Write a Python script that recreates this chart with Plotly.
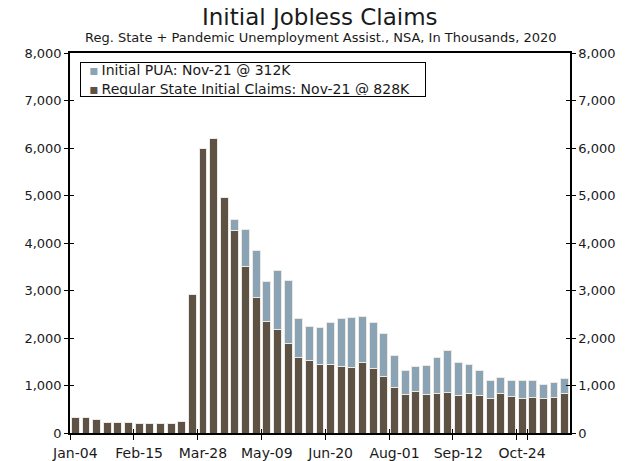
import pandas as pd
import plotly.graph_objects as go

# weekly, week ending Saturday, 2020
weeks = pd.date_range("2020-01-04", "2020-11-21", freq="7D").strftime("%b-%d").tolist()

# thousands, NSA
regular_state = [336, 336, 280, 231, 224, 217, 210, 196, 210, 203, 252, 2920,
                 5994, 6190, 4951, 4272, 3495, 2845, 2340, 2175, 1891, 1597,
                 1534, 1443, 1436, 1401, 1380, 1492, 1359, 1190, 966, 819,
                 868, 811, 825, 859, 789, 824, 789, 725, 831, 761, 732, 739,
                 725, 746, 828]
initial_pua = [0, 0, 0, 0, 0, 0, 0, 0, 0, 0, 0, 0, 0, 0, 0, 217, 798, 997,
               850, 1239, 1316, 805, 707, 777, 889, 1001, 1043, 959, 959, 904,
               659, 491, 533, 611, 755, 880, 690, 620, 521, 388, 331, 352, 367,
               367, 296, 324, 312]

tick_labels = weeks[::6]
y_ticks = [0, 1000, 2000, 3000, 4000, 5000, 6000, 7000, 8000]

reg_name = "Regular State Initial Claims: Nov-21 @ 828K"
pua_name = "Initial PUA: Nov-21 @ 312K"
reg_color = "#5e5245"
pua_color = "#8aa3b5"

txt = "#1a1a1a"
font = "DejaVu Sans"

fig = go.Figure()
fig.add_trace(go.Bar(x=weeks, y=regular_state, name=reg_name,
                     marker=dict(color=reg_color, line=dict(color="#ece8e3", width=1))))
fig.add_trace(go.Bar(x=weeks, y=initial_pua, name=pua_name,
                     marker=dict(color=pua_color, line=dict(color="#ece8e3", width=1))))
# invisible helpers so the overlay axes (right labels, crossing ticks) get drawn
fig.add_trace(go.Scatter(x=weeks, y=regular_state, xaxis="x2", yaxis="y2", mode="markers",
                         marker=dict(opacity=0), showlegend=False, hoverinfo="skip"))
fig.add_trace(go.Scatter(x=weeks, y=regular_state, xaxis="x", yaxis="y3", mode="markers",
                         marker=dict(opacity=0), showlegend=False, hoverinfo="skip"))

sq = "&nbsp;&#8201;<span style='color:{}'>▪</span>&#8201;"
legend_text = sq.format(pua_color) + pua_name + "<br>" + sq.format(reg_color) + reg_name

# page body adds an 8px offset, so the figure is 8px smaller than the window
fig.update_layout(
    width=628, height=453,
    barmode="stack", bargap=0.26,
    paper_bgcolor="white", plot_bgcolor="white",
    margin=dict(l=62, r=66, t=45, b=28),
    font=dict(family=font, size=13, color=txt),
    showlegend=False,
    annotations=[
        dict(text="Initial Jobless Claims", x=0.5, y=1.095, xref="paper", yref="paper",
             xanchor="center", yanchor="middle", showarrow=False,
             font=dict(size=23, color=txt)),
        dict(text="Reg. State + Pandemic Unemployment Assist., NSA, In Thousands, 2020",
             x=0.5, y=1.042, xref="paper", yref="paper", xanchor="center", yanchor="middle",
             showarrow=False, font=dict(size=13, color=txt)),
        # legend box
        dict(text=legend_text, x=0.02, y=0.976, xref="paper", yref="paper",
             xanchor="left", yanchor="top", align="left", valign="middle",
             showarrow=False, width=342, height=31,
             bgcolor="white", bordercolor="#000", borderwidth=1, borderpad=1,
             font=dict(size=14, color=txt)),
    ],
    xaxis=dict(type="category", categoryarray=weeks, range=[-0.5, len(weeks) - 0.5],
               tickvals=tick_labels, tickson="boundaries", tickangle=0,
               ticks="outside", ticklen=5, tickcolor="#000", automargin=False,
               ticklabelstandoff=6,
               showline=True, linecolor="#000", linewidth=1.5, mirror=True,
               showgrid=False, zeroline=False, tickfont=dict(size=14)),
    xaxis2=dict(type="category", categoryarray=weeks, range=[-0.5, len(weeks) - 0.5],
                overlaying="x", anchor="y", side="bottom", automargin=False,
                tickvals=tick_labels, tickson="boundaries",
                ticks="inside", ticklen=4, tickcolor="#000",
                showticklabels=False, showline=False, showgrid=False, zeroline=False),
    yaxis=dict(range=[0, 8000], tickvals=y_ticks, tickformat=",d", automargin=False,
               ticks="outside", ticklen=4, tickcolor="#000",
               showline=True, linecolor="#000", linewidth=1.5,
               showgrid=False, zeroline=False, tickfont=dict(size=13)),
    yaxis2=dict(range=[0, 8000], tickvals=y_ticks, tickformat=",d", automargin=False,
                overlaying="y", side="right", anchor="x",
                ticks="outside", ticklen=4, tickcolor="#000",
                showline=True, linecolor="#000", linewidth=1.5,
                showgrid=False, zeroline=False, tickfont=dict(size=13)),
    yaxis3=dict(range=[0, 8000], tickvals=y_ticks, overlaying="y", side="left", anchor="x",
                ticks="inside", ticklen=4, tickcolor="#000", mirror="ticks", automargin=False,
                showticklabels=False, showline=False, showgrid=False, zeroline=False),
)

fig.write_html("out.html")
